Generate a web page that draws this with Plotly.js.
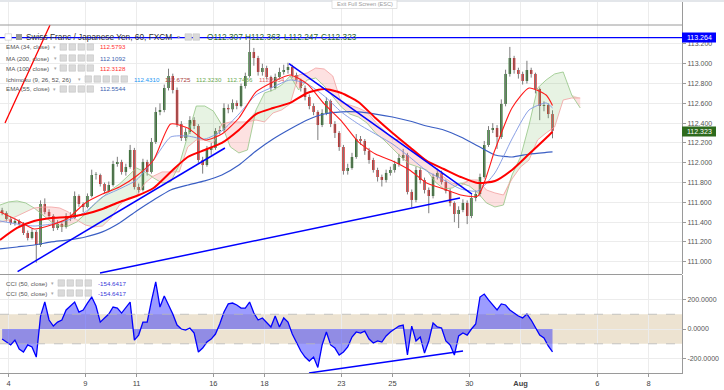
<!DOCTYPE html>
<html><head><meta charset="utf-8">
<script src="https://cdn.plot.ly/plotly-3.0.1.min.js"></script>
<style>html,body{margin:0;padding:0;background:#fff;}#chart{width:724px;height:390px;}</style>
</head><body><div id="chart"></div>
<script>
// ---------- DATA (CHF/JPY, 60 min, FXCM) ----------
// candles sampled every 4 hours; x = trading hour index
const opens = [111.520,111.492,111.432,111.391,111.412,111.381,111.290,111.240,111.301,111.169,
111.583,111.503,111.462,111.341,111.381,111.351,111.462,111.442,111.664,111.583,
111.553,111.664,111.876,111.876,111.785,111.715,111.775,111.987,112.008,111.907,
111.957,112.129,111.755,111.725,112.008,111.907,112.210,112.513,112.533,112.755,
112.876,112.735,112.391,112.250,112.311,112.432,112.371,112.028,111.977,112.129,
112.150,112.321,112.331,112.553,112.540,112.604,112.573,112.775,112.876,113.119,
113.058,112.917,112.957,112.866,112.755,112.866,112.917,112.937,112.967,112.886,
112.836,112.755,112.664,112.573,112.513,112.381,112.503,112.624,112.391,112.301,
112.159,111.917,111.947,112.058,112.240,112.220,112.119,112.028,111.927,111.856,
111.826,111.897,111.927,111.987,112.048,112.078,111.705,111.624,111.927,111.826,
111.725,111.664,111.856,111.897,111.806,111.715,111.594,111.482,111.523,111.594,
111.462,111.644,111.684,111.856,112.179,112.331,112.351,112.260,112.594,112.897,
113.058,112.937,112.897,112.826,112.937,112.897,112.745,112.573,112.583,112.492];
const highs = [111.545,111.510,111.455,111.440,111.430,111.400,111.315,111.335,111.320,111.620,
111.640,111.530,111.480,111.420,111.400,111.490,111.500,111.710,111.680,111.600,
111.690,111.930,111.905,111.890,111.800,111.810,112.020,112.060,112.030,111.990,
112.180,112.150,111.790,112.040,112.030,112.250,112.560,112.600,112.790,112.950,
112.900,112.760,112.420,112.350,112.470,112.460,112.390,112.060,112.170,112.200,
112.350,112.370,112.600,112.590,112.640,112.630,112.800,112.910,113.240,113.160,
113.080,113.000,112.980,112.880,112.900,112.960,112.990,113.010,112.990,112.910,
112.850,112.780,112.690,112.600,112.530,112.540,112.660,112.640,112.420,112.320,
112.180,111.990,112.100,112.290,112.270,112.240,112.150,112.050,111.950,111.880,
111.930,111.960,112.020,112.090,112.140,112.100,111.730,111.960,111.950,111.850,
111.750,111.890,111.940,111.920,111.830,111.740,111.610,111.560,111.630,111.620,
111.680,111.720,111.890,112.220,112.370,112.400,112.380,112.640,112.940,113.170,
113.080,112.960,112.920,113.030,112.960,112.910,112.760,112.620,112.600,112.530];
const lows = [111.470,111.405,111.370,111.365,111.350,111.270,111.215,111.225,110.990,111.150,
111.480,111.430,111.310,111.320,111.300,111.335,111.410,111.430,111.555,111.500,
111.540,111.650,111.830,111.760,111.690,111.700,111.760,111.960,111.880,111.870,
111.940,111.730,111.690,111.710,111.870,111.890,112.190,112.480,112.510,112.730,
112.700,112.360,112.220,112.220,112.290,112.340,112.000,111.890,111.960,112.080,
112.130,112.290,112.310,112.500,112.510,112.540,112.560,112.750,112.860,112.980,
112.880,112.880,112.840,112.720,112.740,112.850,112.890,112.900,112.860,112.800,
112.720,112.630,112.540,112.480,112.230,112.360,112.480,112.360,112.250,112.120,
111.880,111.880,111.930,112.040,112.180,112.080,111.990,111.900,111.810,111.760,
111.800,111.870,111.900,111.960,112.020,111.680,111.550,111.600,111.790,111.690,
111.490,111.640,111.830,111.780,111.690,111.560,111.400,111.340,111.500,111.380,
111.440,111.610,111.660,111.840,112.160,112.300,112.140,112.240,112.570,112.870,
112.900,112.850,112.790,112.800,112.860,112.700,112.430,112.520,112.450,112.247];
const closes = [111.492,111.432,111.391,111.412,111.381,111.290,111.240,111.301,111.169,111.583,
111.503,111.462,111.341,111.381,111.351,111.462,111.442,111.664,111.583,111.553,
111.664,111.876,111.876,111.785,111.715,111.775,111.987,112.008,111.907,111.957,
112.129,111.755,111.725,112.008,111.907,112.210,112.513,112.533,112.755,112.876,
112.735,112.391,112.250,112.311,112.432,112.371,112.028,111.977,112.129,112.150,
112.321,112.331,112.553,112.540,112.604,112.573,112.775,112.876,113.119,113.058,
112.917,112.957,112.866,112.755,112.866,112.917,112.937,112.967,112.886,112.836,
112.755,112.664,112.573,112.513,112.381,112.503,112.624,112.391,112.301,112.159,
111.917,111.947,112.058,112.240,112.220,112.119,112.028,111.927,111.856,111.826,
111.897,111.927,111.987,112.048,112.078,111.705,111.624,111.927,111.826,111.725,
111.664,111.856,111.897,111.806,111.715,111.594,111.482,111.523,111.594,111.462,
111.644,111.684,111.856,112.179,112.331,112.351,112.260,112.594,112.897,113.058,
112.937,112.897,112.826,112.937,112.897,112.745,112.573,112.583,112.492,112.323];

// CCI(50) at the same bars
const cci = [-68,-88,-108,-75,-136,-156,-108,-122,-190,88,
183,61,20,47,61,129,156,183,115,129,
176,217,156,47,75,102,149,142,108,149,
183,-75,-41,47,47,190,320,149,224,163,
102,27,0,-7,7,-27,-156,-129,-88,-68,
-34,34,115,170,176,163,142,142,183,108,
61,75,47,14,88,14,75,47,-34,-88,
-149,-190,-217,-190,-260,-108,-20,-108,-129,-176,
-156,-122,-54,-20,-27,-14,-68,-95,-81,-88,
-47,-20,0,20,27,-176,20,-81,-54,-163,
-81,41,14,7,-81,-108,-176,-47,-27,-41,
0,34,217,237,197,163,129,170,163,129,
108,88,75,102,61,7,-41,-61,-115,-154.64];

// moving averages, every 16 hours (last point = last bar)
const maHours = [0,16,32,48,64,80,96,112,128,144,160,176,192,208,224,240,256,272,288,304,320,336,352,368,384,400,416,432,448,464,480,496,512,518];
const ma200 = [111.129,111.149,111.169,111.200,111.220,111.250,111.301,111.391,111.513,111.624,111.725,111.775,111.816,111.876,111.977,112.119,112.240,112.341,112.432,112.492,112.513,112.513,112.492,112.462,112.422,112.371,112.331,112.260,112.169,112.078,112.058,112.088,112.104,112.109];
const ema55 = [111.412,111.381,111.361,111.381,111.422,111.503,111.654,111.735,111.826,112.028,112.260,112.270,112.240,112.321,112.492,112.684,112.765,112.836,112.796,112.674,112.513,112.391,112.290,112.189,112.058,111.917,111.826,111.735,111.715,111.897,112.240,112.533,112.604,112.554];
const ema34 = [111.503,111.422,111.331,111.371,111.442,111.594,111.684,111.755,111.866,112.028,112.391,112.351,112.230,112.290,112.452,112.715,112.816,112.886,112.796,112.594,112.422,112.210,112.088,112.018,111.927,111.795,111.735,111.674,111.664,112.129,112.553,112.755,112.684,112.579];
const ma100 = [111.220,111.341,111.412,111.442,111.452,111.482,111.533,111.604,111.664,111.745,111.907,112.058,112.129,112.200,112.331,112.492,112.553,112.604,112.705,112.745,112.705,112.614,112.452,112.301,112.159,112.018,111.937,111.856,111.795,111.816,111.927,112.088,112.250,112.313];

// Ichimoku cloud (spans shifted forward), every 8 hours
const spanA = [111.573,111.604,111.614,111.594,111.543,111.472,111.402,111.361,111.361,111.402,
111.482,111.573,111.654,111.725,111.785,111.866,111.947,111.907,111.846,111.795,
111.806,111.977,112.280,112.573,112.573,112.523,112.381,112.159,112.099,112.129,
112.533,112.705,112.735,112.785,112.876,112.735,112.836,112.856,112.775,112.674,
112.563,112.492,112.462,112.402,112.301,112.230,112.139,112.058,111.987,111.957,
111.927,111.806,111.735,111.745,111.795,111.765,111.695,111.594,111.553,111.573,
111.876,112.058,112.381,112.755,112.836,112.897,112.917,112.684,112.553];
const spanB = [111.402,111.422,111.462,111.503,111.543,111.553,111.553,111.543,111.503,111.422,
111.371,111.351,111.361,111.442,111.573,111.644,111.664,111.795,111.866,111.907,
111.907,111.907,112.159,112.230,112.230,112.200,112.391,112.412,112.412,112.412,
112.432,112.412,112.503,112.533,112.594,112.886,112.907,112.957,112.947,112.876,
112.604,112.583,112.553,112.513,112.412,112.321,112.240,112.230,112.149,112.078,
112.028,111.947,111.856,111.795,111.765,111.826,111.826,111.725,111.695,111.674,
111.836,111.957,112.028,112.230,112.301,112.361,112.634,112.654,112.654];

// drawn objects (hour, price)
const trendShortX = [16.5, 210.9],  trendShortY = [110.901, 112.149];
const trendLongX  = [93.75, 431.25], trendLongY  = [110.886, 111.644];
const trendDownX  = [270.9, 442.5],  trendDownY  = [113.002, 111.684];
const redLineX    = [4.7, 46.9],     redLineY    = [112.402, 113.392];
const cciTrendX   = [289.7, 434.1],  cciTrendY   = [-298, -149];
const hLevel = 113.264;
const lastPrice = 112.323;

// axis ticks
const tickHours = [8,80,128,200,248,320,368,440,488,560,608];
const tickLabels = ['4','9','11','16','18','23','25','30','<b>Aug</b>','6','8'];
const priceTicks = [111.0,111.2,111.4,111.6,111.8,112.0,112.2,112.4,112.6,112.8,113.0,113.2];
const cciTicks = [-200,0,200];
const cciTickLabels = ['-200.0000','0.0000','200.0000'];

// legend texts
const titleText = 'Swiss Franc / Japanese Yen, 60, FXCM';
const ohlcText = ['O112.307','H112.363','L112.247','C112.323'];
const legendNames = ['EMA (34, close)','MA (200, close)','MA (100, close)','Ichimoku (9, 26, 52, 26)','EMA (55, close)'];
const legendValues = [['112.5793'],['112.1092'],['112.3128'],['112.4310','112.6725','112.3230','112.7436','112.3254'],['112.5544']];
const cciNames = ['CCI (50, close)','CCI (50, close)'];
const cciValues = ['-154.6417','-154.6417'];

// ---------- BUILD ----------
const candleX = closes.map((_, k) => 4*k + 2);
const cloudX = spanA.map((_, j) => 8*j);
const cloudTop = spanA.map((a, j) => Math.max(a, spanB[j]));
const bodyBase = closes.map((c, k) => Math.min(c, opens[k]));
const bodyLen = closes.map((c, k) => Math.max(Math.abs(c - opens[k]), 0.006));
const bodyCol = closes.map((c, k) => c >= opens[k] ? '#236b1e' : '#d41a1a');

const PW = 682, PH = 373;
const px = x => x / PW, py = y => 1 - y / PH;
const FONT = 'Liberation Sans, Arial, sans-serif';

const traces = [
  {x: cloudX, y: spanB, type:'scatter', mode:'lines', line:{width:0}, hoverinfo:'skip'},
  {x: cloudX, y: cloudTop, type:'scatter', mode:'lines', line:{width:0}, fill:'tonexty', fillcolor:'rgba(120,190,100,0.18)', hoverinfo:'skip'},
  {x: cloudX, y: spanA, type:'scatter', mode:'lines', line:{width:0}, hoverinfo:'skip'},
  {x: cloudX, y: cloudTop, type:'scatter', mode:'lines', line:{width:0}, fill:'tonexty', fillcolor:'rgba(245,120,120,0.22)', hoverinfo:'skip'},
  {x: cloudX, y: spanA, type:'scatter', mode:'lines', line:{color:'#93c584', width:0.8}},
  {x: cloudX, y: spanB, type:'scatter', mode:'lines', line:{color:'#f2a0a0', width:0.8}},
  {x: candleX, open: opens, high: highs, low: lows, close: closes, type:'ohlc', tickwidth:0,
   increasing:{line:{color:'#7c7c7c', width:1}}, decreasing:{line:{color:'#7c7c7c', width:1}}, hoverinfo:'skip'},
  {x: candleX, y: bodyLen, base: bodyBase, type:'bar', width:2.3,
   marker:{color: bodyCol, line:{width:0}}, hoverinfo:'skip'},
  {x: maHours, y: ma200, type:'scatter', mode:'lines', line:{color:'#3b5fc4', width:1.2, shape:'spline', smoothing:0.6}},
  {x: maHours, y: ema55, type:'scatter', mode:'lines', line:{color:'#7d95e2', width:0.9, shape:'spline', smoothing:0.6}},
  {x: maHours, y: ema34, type:'scatter', mode:'lines', line:{color:'#ff1a1a', width:1.1, shape:'spline', smoothing:0.6}},
  {x: maHours, y: ma100, type:'scatter', mode:'lines', line:{color:'#ff0000', width:2, shape:'spline', smoothing:0.6}},
  {x: trendShortX, y: trendShortY, type:'scatter', mode:'lines', line:{color:'#0000ff', width:1.5}},
  {x: trendLongX, y: trendLongY, type:'scatter', mode:'lines', line:{color:'#0000ff', width:1.5}},
  {x: trendDownX, y: trendDownY, type:'scatter', mode:'lines', line:{color:'#0000ff', width:1.5}},
  {x: redLineX, y: redLineY, type:'scatter', mode:'lines', line:{color:'#ff0000', width:1.3}},
  {x: candleX, y: cci, xaxis:'x', yaxis:'y2', type:'scatter', mode:'lines', line:{color:'#0000ff', width:1.3}, fill:'tozeroy', fillcolor:'rgba(20,20,255,0.42)'},
  {x: cciTrendX, y: cciTrendY, xaxis:'x', yaxis:'y2', type:'scatter', mode:'lines', line:{color:'#0000ff', width:1.5}}
];

const shapes = [
  {type:'rect', xref:'paper', yref:'y2', x0:0, x1:1, y0:-100, y1:100, fillcolor:'#ede3d1', line:{width:0}, layer:'below'},
  {type:'line', xref:'paper', yref:'y2', x0:0, x1:1, y0:100, y1:100, line:{color:'#b8b8b8', width:0.8, dash:'dash'}},
  {type:'line', xref:'paper', yref:'y2', x0:0, x1:1, y0:-100, y1:-100, line:{color:'#b8b8b8', width:0.8, dash:'dash'}},
  {type:'line', xref:'paper', yref:'y', x0:0, x1:1, y0:hLevel, y1:hLevel, line:{color:'#0000ff', width:1.4}},
  {type:'line', xref:'paper', yref:'paper', x0:0, x1:1, y0:py(25), y1:py(25), line:{color:'#9a9a9a', width:1}},
  {type:'line', xref:'paper', yref:'paper', x0:0, x1:1, y0:py(274.5), y1:py(274.5), line:{color:'#9a9a9a', width:1}},
  {type:'rect', xref:'paper', yref:'paper', x0:0, x1:px(724), y0:py(0), y1:py(2), fillcolor:'#e3e6ea', line:{width:0}},
  {type:'rect', xref:'paper', yref:'paper', x0:px(332), x1:px(397), y0:py(0), y1:py(8.5), fillcolor:'#ffffff', line:{color:'#d4d4d4', width:0.7}},
  {type:'rect', xref:'paper', yref:'paper', x0:px(682), x1:px(716), y0:py(42.5), y1:py(32.5), fillcolor:'#0000ff', line:{width:0}},
  {type:'rect', xref:'paper', yref:'paper', x0:px(682), x1:px(716), y0:py(136.5), y1:py(126.5), fillcolor:'#2e6b1d', line:{width:0}}
];

const annotations = [];
function txt(t, x, y, size, color, anchor) {
  annotations.push({text:t, xref:'paper', yref:'paper', x:px(x), y:py(y), xanchor:anchor||'left', yanchor:'middle',
    showarrow:false, font:{family:FONT, size:size, color:color}, borderpad:0});
}
function icon(x, y, filled) {
  shapes.push({type:'rect', xref:'paper', yref:'paper', x0:px(x), x1:px(x+6.5), y0:py(y+3.2), y1:py(y-3.2),
    fillcolor: filled ? '#dadada' : '#ffffff', line:{color:'#c4c4c4', width:0.6}});
}
// title row
icon(5, 37, false); shapes.push({type:'rect', xref:'paper', yref:'paper', x0:px(16), x1:px(22), y0:py(40), y1:py(34), fillcolor:'#9a9a9a', line:{width:0}});
txt(titleText, 25, 37, 8.3, '#333333');
txt('▾', 176, 37, 6, '#aaaaaa');
icon(185, 37, true); icon(193, 37, true);
[206, 244, 283, 320].forEach((x, i) => txt(ohlcText[i], x, 37, 8.3, '#2f6b2f'));
// indicator rows
const rowY = [47, 58, 68, 79, 89];
const caretX = [52, 53, 53, 77, 52];
const valColors = [['#ff3030'],['#3d5fb0'],['#ff3030'],['#2196f3','#a94442','#6aa84f','#6aa84f','#e06666'],['#3d5fb0']];
legendNames.forEach((n, i) => {
  txt(n, 5, rowY[i], 6.2, '#555555');
  txt('▾', caretX[i], rowY[i], 5, '#aaaaaa');
  const icx = i === 3 ? [85,94,103,112,121] : [60,69,78,87];
  icx.forEach(x => icon(x, rowY[i], true));
  const vx = i === 3 ? [133,164,195,226,258] : [99];
  legendValues[i].forEach((v, j) => txt(v, vx[j], rowY[i], 6.2, valColors[i][j]));
});
// CCI rows
[283, 293].forEach((y, i) => {
  txt(cciNames[i], 5, y, 6.2, '#555555');
  txt('▾', 50, y, 5, '#aaaaaa');
  [58,67,76,85].forEach(x => icon(x, y, true));
  txt(cciValues[i], 97, y, 6.2, '#3a3ad8');
});
// price labels
txt(hLevel.toFixed(3), 699, 37.3, 7, '#ffffff', 'center');
txt(lastPrice.toFixed(3), 699, 131.5, 7, '#ffffff', 'center');
txt('Exit Full Screen (ESC)', 364.5, 4.3, 5.6, '#9a9a9a', 'center');

const layout = {
  width:724, height:390, margin:{l:0, r:42, t:0, b:17, pad:0},
  paper_bgcolor:'#ffffff', plot_bgcolor:'#ffffff', showlegend:false, hovermode:false,
  font:{family:FONT},
  xaxis:{type:'linear', range:[0, 639.4], anchor:'y2', tickvals:tickHours, ticktext:tickLabels,
    showgrid:true, gridcolor:'#ececec', gridwidth:1, zeroline:false, showline:true, linecolor:'#9a9a9a',
    ticks:'outside', ticklen:3, tickcolor:'#9a9a9a', tickfont:{size:7.5, color:'#444'},
    rangeslider:{visible:false}, fixedrange:true},
  yaxis:{domain:[0.2654, 1], range:[110.876, 113.644], side:'right', tickvals:priceTicks, tickformat:'.3f',
    showgrid:true, gridcolor:'#ececec', zeroline:false, showline:true, linecolor:'#9a9a9a',
    ticks:'outside', ticklen:3, tickcolor:'#9a9a9a', tickfont:{size:7, color:'#555'}, fixedrange:true},
  yaxis2:{domain:[0, 0.2627], range:[-298, 366], side:'right', tickvals:cciTicks, ticktext:cciTickLabels,
    showgrid:true, gridcolor:'#ececec', zeroline:false, showline:true, linecolor:'#9a9a9a',
    ticks:'outside', ticklen:3, tickcolor:'#9a9a9a', tickfont:{size:7, color:'#555'}, fixedrange:true},
  shapes: shapes, annotations: annotations
};

Plotly.newPlot('chart', traces, layout, {displayModeBar:false, staticPlot:true});
</script></body></html>
